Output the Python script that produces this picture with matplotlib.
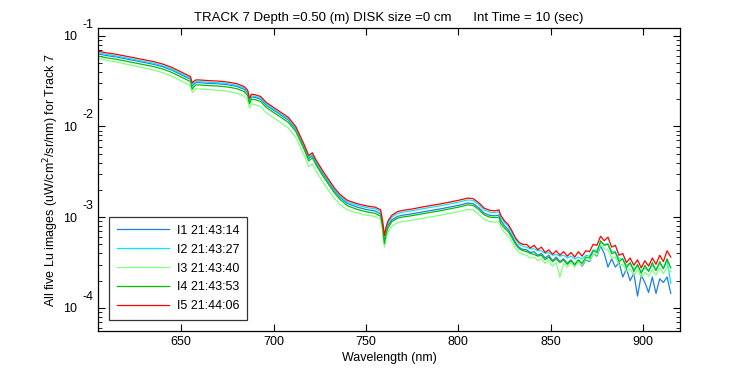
import numpy as np
import matplotlib
matplotlib.use("Agg")
import matplotlib.pyplot as plt
from matplotlib.ticker import LogLocator, FixedLocator, FuncFormatter
from matplotlib.transforms import offset_copy

plt.rcParams['font.family'] = ['Liberation Sans', 'DejaVu Sans']

wavelength = [605, 610, 615, 620, 625, 630, 635, 640, 645, 650,
              653, 655, 656, 657, 658, 660, 665, 670, 675, 680,
              684, 686, 687, 688, 690, 693, 696, 700, 704, 708,
              712, 715, 717, 719, 721, 723, 727, 730, 733, 736,
              740, 745, 750, 755, 758, 759, 760, 761, 762, 764,
              767, 770, 775, 780, 785, 790, 795, 800, 805, 808,
              811, 814, 817, 820, 822, 823, 825, 827, 829, 831,
              833, 835,
              837, 839, 841, 843, 845, 847, 849, 851, 853, 855,
              857, 859, 861, 863, 865, 867, 869, 871, 873, 875,
              877, 879, 881, 883, 885, 887, 889, 891, 893, 895,
              897, 899, 901, 903, 905, 907, 909, 911, 913, 915]

# log10 of radiance
log_I1 = [-1.200, -1.220, -1.235, -1.255, -1.275, -1.295, -1.315, -1.342, -1.380, -1.430,
          -1.460, -1.480, -1.555, -1.532, -1.517, -1.518, -1.525, -1.530, -1.540, -1.558,
          -1.590, -1.630, -1.722, -1.675, -1.680, -1.700, -1.765, -1.820, -1.875, -1.930,
          -2.030, -2.162, -2.252, -2.352, -2.322, -2.402, -2.532, -2.622, -2.712, -2.782,
          -2.850, -2.888, -2.915, -2.932, -2.965, -3.085, -3.250, -3.150, -3.090, -3.030,
          -2.992, -2.978, -2.963, -2.945, -2.927, -2.910, -2.890, -2.870, -2.845, -2.850,
          -2.895, -2.955, -2.980, -2.985, -2.975, -3.035, -3.095, -3.135, -3.205, -3.285,
          -3.335, -3.355,
          -3.36, -3.39, -3.38, -3.42, -3.40, -3.45, -3.42, -3.48, -3.44, -3.49,
          -3.46, -3.51, -3.47, -3.53, -3.48, -3.54, -3.47, -3.49, -3.40, -3.43,
          -3.32, -3.40, -3.55, -3.46, -3.55, -3.50, -3.66, -3.57, -3.70, -3.62,
          -3.87, -3.64, -3.72, -3.83, -3.66, -3.84, -3.68, -3.72, -3.66, -3.84]

log_I2 = [-1.188, -1.208, -1.223, -1.243, -1.263, -1.283, -1.303, -1.330, -1.368, -1.418,
          -1.448, -1.468, -1.540, -1.518, -1.505, -1.506, -1.513, -1.518, -1.528, -1.546,
          -1.578, -1.618, -1.708, -1.663, -1.668, -1.688, -1.753, -1.808, -1.863, -1.918,
          -2.018, -2.148, -2.238, -2.338, -2.308, -2.388, -2.518, -2.608, -2.698, -2.768,
          -2.833, -2.868, -2.893, -2.908, -2.938, -3.058, -3.220, -3.120, -3.060, -3.000,
          -2.960, -2.945, -2.930, -2.910, -2.892, -2.875, -2.855, -2.835, -2.810, -2.815,
          -2.860, -2.920, -2.945, -2.950, -2.940, -3.000, -3.060, -3.100, -3.170, -3.250,
          -3.300, -3.320,
          -3.33, -3.35, -3.35, -3.37, -3.37, -3.40, -3.39, -3.42, -3.41, -3.43,
          -3.42, -3.45, -3.43, -3.46, -3.44, -3.46, -3.42, -3.43, -3.36, -3.37,
          -3.28, -3.30, -3.29, -3.38, -3.38, -3.46, -3.46, -3.53, -3.51, -3.57,
          -3.54, -3.60, -3.56, -3.59, -3.53, -3.58, -3.51, -3.56, -3.47, -3.73]

log_I3 = [-1.250, -1.272, -1.290, -1.312, -1.334, -1.356, -1.378, -1.407, -1.447, -1.498,
          -1.530, -1.550, -1.625, -1.602, -1.585, -1.587, -1.595, -1.601, -1.612, -1.632,
          -1.666, -1.708, -1.800, -1.752, -1.758, -1.780, -1.847, -1.903, -1.960, -2.017,
          -2.118, -2.250, -2.340, -2.442, -2.412, -2.492, -2.622, -2.712, -2.795, -2.860,
          -2.920, -2.952, -2.977, -2.992, -3.022, -3.150, -3.330, -3.225, -3.160, -3.100,
          -3.062, -3.048, -3.033, -3.015, -2.997, -2.980, -2.960, -2.940, -2.915, -2.920,
          -2.965, -3.025, -3.050, -3.055, -3.050, -3.110, -3.170, -3.210, -3.270, -3.345,
          -3.390, -3.410,
          -3.42, -3.45, -3.44, -3.48, -3.46, -3.51, -3.48, -3.54, -3.50, -3.66,
          -3.51, -3.55, -3.50, -3.55, -3.49, -3.53, -3.46, -3.48, -3.40, -3.42,
          -3.30, -3.35, -3.36, -3.45, -3.44, -3.53, -3.52, -3.60, -3.57, -3.64,
          -3.58, -3.66, -3.61, -3.65, -3.58, -3.64, -3.56, -3.62, -3.55, -3.60]

log_I4 = [-1.225, -1.245, -1.260, -1.280, -1.300, -1.320, -1.340, -1.367, -1.405, -1.455,
          -1.485, -1.505, -1.590, -1.560, -1.542, -1.543, -1.550, -1.555, -1.565, -1.583,
          -1.615, -1.660, -1.750, -1.700, -1.705, -1.725, -1.790, -1.845, -1.900, -1.955,
          -2.055, -2.185, -2.275, -2.380, -2.345, -2.425, -2.555, -2.645, -2.735, -2.805,
          -2.875, -2.912, -2.940, -2.958, -2.990, -3.110, -3.290, -3.180, -3.115, -3.050,
          -3.012, -2.998, -2.983, -2.965, -2.947, -2.930, -2.910, -2.890, -2.865, -2.870,
          -2.915, -2.975, -3.000, -3.005, -3.000, -3.070, -3.120, -3.160, -3.225, -3.300,
          -3.350, -3.370,
          -3.38, -3.40, -3.41, -3.43, -3.42, -3.47, -3.44, -3.49, -3.46, -3.50,
          -3.47, -3.52, -3.48, -3.52, -3.47, -3.51, -3.44, -3.45, -3.37, -3.39,
          -3.26, -3.31, -3.30, -3.40, -3.39, -3.49, -3.46, -3.56, -3.50, -3.60,
          -3.52, -3.62, -3.53, -3.60, -3.50, -3.59, -3.49, -3.57, -3.46, -3.56]

log_I5 = [-1.170, -1.190, -1.205, -1.225, -1.245, -1.265, -1.285, -1.312, -1.350, -1.400,
          -1.430, -1.450, -1.520, -1.500, -1.487, -1.488, -1.495, -1.500, -1.510, -1.528,
          -1.560, -1.600, -1.690, -1.645, -1.650, -1.670, -1.735, -1.790, -1.845, -1.900,
          -2.000, -2.130, -2.220, -2.320, -2.290, -2.370, -2.500, -2.590, -2.680, -2.750,
          -2.815, -2.850, -2.875, -2.890, -2.920, -3.040, -3.200, -3.100, -3.040, -2.980,
          -2.940, -2.925, -2.910, -2.890, -2.872, -2.855, -2.835, -2.815, -2.790, -2.795,
          -2.840, -2.900, -2.925, -2.930, -2.920, -2.980, -3.040, -3.080, -3.150, -3.230,
          -3.280, -3.300,
          -3.30, -3.34, -3.31, -3.36, -3.33, -3.39, -3.36, -3.41, -3.37, -3.42,
          -3.38, -3.43, -3.39, -3.44, -3.38, -3.43, -3.37, -3.38, -3.30, -3.31,
          -3.21, -3.26, -3.22, -3.33, -3.31, -3.42, -3.40, -3.50, -3.45, -3.53,
          -3.47, -3.56, -3.48, -3.54, -3.45, -3.52, -3.42, -3.49, -3.37, -3.44]

labels = ["I1 21:43:14", "I2 21:43:27", "I3 21:43:40", "I4 21:43:53", "I5 21:44:06"]
colors = ["#1a80e8", "#00e8ff", "#80ff80", "#00c000", "#ff0000"]
series = [log_I1, log_I2, log_I3, log_I4, log_I5]
decades = [-1, -2, -3, -4]

fig = plt.figure(figsize=(7.5, 3.75), dpi=100)
ax = fig.add_axes([0.1307, 0.1173, 0.776, 0.808])

for lg, c, lab in zip(series, colors, labels):
    ax.semilogy(wavelength, 10 ** np.array(lg), color=c, lw=0.9, label=lab)

ax.set_xlim(605, 920)
ax.set_ylim(10 ** -4.255, 10 ** -0.915)
ax.xaxis.set_major_locator(FixedLocator([650, 700, 750, 800, 850, 900]))
ax.yaxis.set_major_locator(FixedLocator([10.0 ** d for d in decades]))
ax.yaxis.set_minor_locator(LogLocator(base=10, subs=np.arange(2, 10), numticks=20))
ax.yaxis.set_major_formatter(FuncFormatter(lambda v, p: "10"))

ax.tick_params(which='both', direction='in', top=True, right=True, labelsize=9, colors='black')
ax.tick_params(which='major', length=5, width=0.8)
ax.tick_params(axis='y', which='major', pad=15)
ax.tick_params(which='minor', length=3, width=0.6)
for s in ax.spines.values():
    s.set_linewidth(0.9)

# MATLAB-style exponents next to the "10" labels
exp_tr = offset_copy(ax.get_yaxis_transform(), fig=fig, x=-16, y=11, units='dots')
for d in decades:
    ax.text(0, 10.0 ** d, str(d), transform=exp_tr, ha='left', va='center',
            fontsize=9, clip_on=False)

ax.set_title("TRACK 7 Depth =0.50 (m) DISK size =0 cm      Int Time = 10 (sec)",
             fontsize=9.5, pad=5)
ax.set_xlabel("Wavelength (nm)", fontsize=9, labelpad=3)
ax.set_ylabel("All five Lu images (uW/cm$^2$/sr/nm) for Track 7", fontsize=9, labelpad=1.5)

leg = ax.legend(loc='lower left', fontsize=9, frameon=True, fancybox=False,
                edgecolor='black', handlelength=4.2, labelspacing=0.55,
                borderaxespad=0.9, handletextpad=0.6, borderpad=0.6)
leg.get_frame().set_linewidth(0.9)

fig.savefig("out.png", dpi=100)
